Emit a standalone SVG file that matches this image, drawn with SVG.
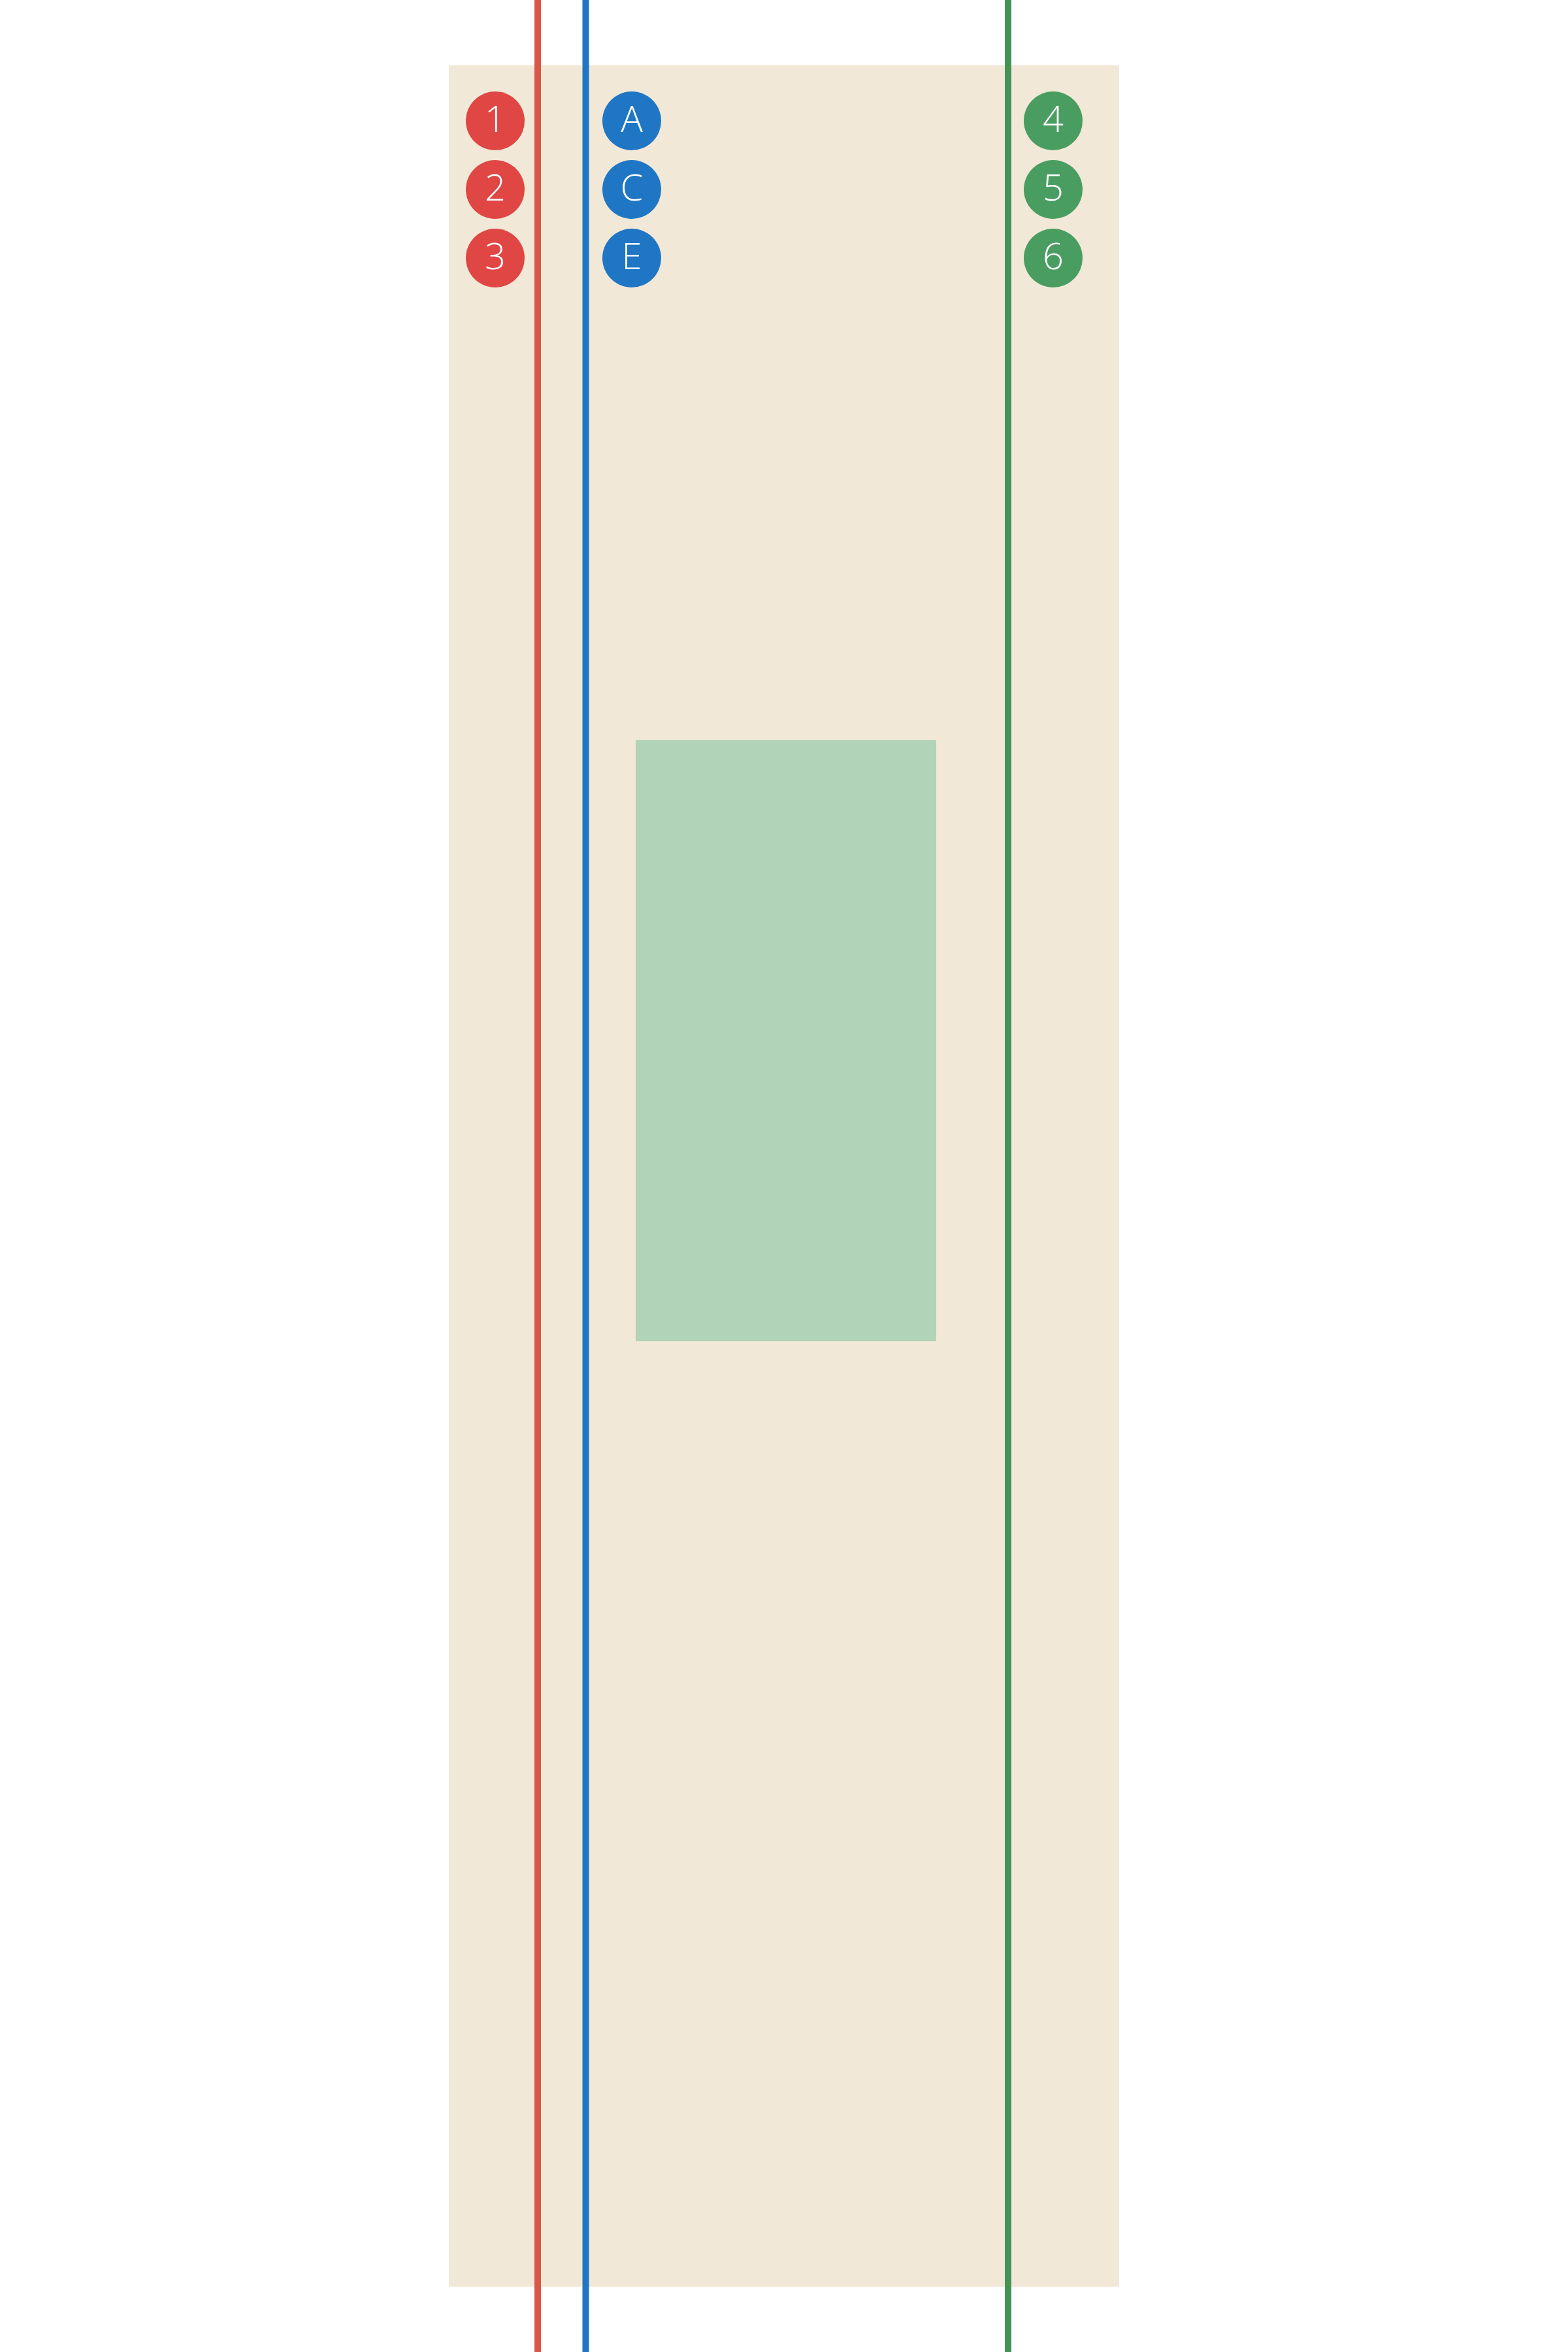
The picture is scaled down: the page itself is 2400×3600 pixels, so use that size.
<svg xmlns="http://www.w3.org/2000/svg" width="2400" height="3600" viewBox="0 0 2400 3600">
<style>
.lbl{font-family:"Open Sans","Liberation Sans",sans-serif;font-size:56px;font-weight:300;fill:#ffffff;text-anchor:middle}
.red{fill:#E04644}
.blue{fill:#1F76C4}
.green{fill:#4A9D61}
.conn{fill:none;stroke-width:10}
</style>
<rect x="0" y="0" width="2400" height="3600" fill="#ffffff"/>
<g id="area"><rect x="687" y="100" width="1026" height="3400" fill="#F1E8D7"/></g>
<g id="block"><rect x="973" y="1133" width="460" height="920" fill="#B1D3B7"/></g>
<g id="connectors">
<line class="conn" x1="823" y1="0" x2="823" y2="3600" stroke="#D9574A"/>
<line class="conn" x1="896.5" y1="0" x2="896.5" y2="3600" stroke="#1F76C4"/>
<line class="conn" x1="1543" y1="0" x2="1543" y2="3600" stroke="#439355"/>
</g>
<g id="n1"><circle class="red" cx="758" cy="185" r="45"/><text class="lbl" x="758" y="202">1</text></g>
<g id="n2"><circle class="red" cx="758" cy="290" r="45"/><text class="lbl" x="758" y="307">2</text></g>
<g id="n3"><circle class="red" cx="758" cy="395" r="45"/><text class="lbl" x="758" y="412">3</text></g>
<g id="nA"><circle class="blue" cx="967" cy="185" r="45"/><text class="lbl" x="967" y="202">A</text></g>
<g id="nC"><circle class="blue" cx="967" cy="290" r="45"/><text class="lbl" x="967" y="307">C</text></g>
<g id="nE"><circle class="blue" cx="967" cy="395" r="45"/><text class="lbl" x="967" y="412">E</text></g>
<g id="n4"><circle class="green" cx="1612" cy="185" r="45"/><text class="lbl" x="1612" y="202">4</text></g>
<g id="n5"><circle class="green" cx="1612" cy="290" r="45"/><text class="lbl" x="1612" y="307">5</text></g>
<g id="n6"><circle class="green" cx="1612" cy="395" r="45"/><text class="lbl" x="1612" y="412">6</text></g>
</svg>
